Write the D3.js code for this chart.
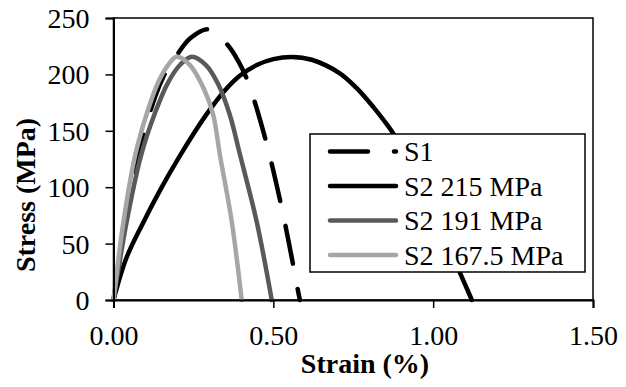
<!DOCTYPE html>
<html>
<head>
<meta charset="utf-8">
<script src="https://cdn.jsdelivr.net/npm/d3@7"></script>
<style>
  html, body { margin: 0; padding: 0; background: #fff; }
  svg { display: block; }
</style>
</head>
<body>
<script>
// Stress–strain curves for specimen S1 and the three S2 load levels
const seriesNames = ["S1", "S2 215 MPa", "S2 191 MPa", "S2 167.5 MPa"];

const strainS1 = [0, 0.04, 0.085, 0.13, 0.167, 0.198, 0.24, 0.296, 0.354, 0.39, 0.417, 0.437, 0.474, 0.493, 0.523, 0.535, 0.56, 0.571, 0.583];
const stressS1 = [0, 72, 135, 180, 204, 217, 232, 240, 227, 212, 196, 180, 144, 123, 86, 70, 34, 17, 0];

const strainS2a = [0, 0.04, 0.09, 0.145, 0.208, 0.287, 0.349, 0.396, 0.45, 0.5, 0.557, 0.62, 0.708, 0.76, 0.813, 0.849, 0.874, 0.9, 0.95, 1.0, 1.05, 1.084, 1.121];
const stressS2a = [0, 37, 67, 97, 128, 163, 186, 199, 208.5, 213.5, 215.5, 213, 201, 188, 171, 158, 148, 135, 108, 78, 46, 24, 0];

const strainS2b = [0, 0.041, 0.086, 0.13, 0.171, 0.21, 0.245, 0.29, 0.328, 0.364, 0.396, 0.448, 0.495];
const stressS2b = [0, 69, 128, 166, 193, 209, 215.7, 208, 191, 164, 128.5, 69.4, 0];

const strainS2c = [0, 0.031, 0.068, 0.105, 0.14, 0.17, 0.198, 0.24, 0.283, 0.312, 0.333, 0.37, 0.401];
const stressS2c = [0, 69, 128.5, 166, 193, 208, 215.7, 208, 187, 164, 128.5, 69.4, 0];

const xTicks = [0, 0.5, 1.0, 1.5];
const yTicks = [0, 50, 100, 150, 200, 250];
const xTitle = "Strain (%)";
const yTitle = "Stress (MPa)";

const FONT = "'Liberation Serif'";

const W = 626, H = 387;
const svg = d3.select("body").append("svg").attr("width", W).attr("height", H);
svg.append("rect").attr("width", W).attr("height", H).attr("fill", "#fff");

const x = d3.scaleLinear().domain([0, 1.5]).range([113.5, 593]);
const y = d3.scaleLinear().domain([0, 250]).range([300, 18]);

const series = [
  { name: seriesNames[0], xs: strainS1, ys: stressS1, color: "#000", dash: "38,26" },
  { name: seriesNames[1], xs: strainS2a, ys: stressS2a, color: "#000", dash: null },
  { name: seriesNames[2], xs: strainS2b, ys: stressS2b, color: "#595959", dash: null },
  { name: seriesNames[3], xs: strainS2c, ys: stressS2c, color: "#a6a6a6", dash: null }
];

const line = d3.line().x(d => x(d[0])).y(d => y(d[1])).curve(d3.curveCatmullRom.alpha(0.5));

// text helper: serif face at the chart's label size
function styleText(sel, bold) {
  sel.style("font-family", FONT).style("font-size", "28px")
     .style("font-weight", bold ? "bold" : "normal").style("fill", "#000");
  return sel;
}

// plot frame
svg.append("rect")
  .attr("x", x(0)).attr("y", y(250))
  .attr("width", x(1.5) - x(0)).attr("height", y(0) - y(250))
  .attr("fill", "none").attr("stroke", "#000").attr("stroke-width", 1.5);

// curves
const gCurves = svg.append("g");
series.forEach(s => {
  const pts = s.xs.map((v, i) => [v, s.ys[i]]);
  const p = gCurves.append("path")
    .attr("d", line(pts))
    .attr("fill", "none")
    .attr("stroke", s.color)
    .attr("stroke-width", 4.5)
    .attr("stroke-linecap", "round")
    .attr("stroke-linejoin", "round");
  if (s.dash) {
    // phase the dash pattern so a short dash closes the curve at zero stress
    const L = p.node().getTotalLength();
    const off = ((11.4 - L) % 64 + 64) % 64;
    p.attr("stroke-dasharray", s.dash).attr("stroke-dashoffset", off);
  }
});

// axes
const xAxis = d3.axisBottom(x).tickValues(xTicks).tickFormat(d3.format(".2f")).tickSize(8).tickPadding(12);
const yAxis = d3.axisLeft(y).tickValues(yTicks).tickFormat(d3.format("d")).tickSize(8).tickPadding(16);

const gx = svg.append("g").attr("transform", `translate(0,${y(0)})`).call(xAxis);
const gy = svg.append("g").attr("transform", `translate(${x(0)},0)`).call(yAxis);
[gx, gy].forEach(g => {
  g.attr("font-family", null).attr("font-size", null);
  g.select(".domain").attr("stroke", "#000").attr("stroke-width", 2);
  g.selectAll(".tick line").attr("stroke", "#000").attr("stroke-width", 1.5);
  styleText(g.selectAll(".tick text"), false);
});
gx.selectAll(".tick text").attr("dy", null).attr("y", 45);
gy.selectAll(".tick text").attr("dy", null).attr("y", 9.5);

// axis titles
styleText(svg.append("text").attr("x", 365).attr("y", 373).attr("text-anchor", "middle"), true)
  .text(xTitle);
styleText(svg.append("text").attr("transform", "translate(35,195) rotate(-90)").attr("text-anchor", "middle"), true)
  .text(yTitle);

// legend
const lg = svg.append("g");
lg.append("rect").attr("x", 310).attr("y", 134).attr("width", 275).attr("height", 138)
  .attr("fill", "#fff").attr("stroke", "#000").attr("stroke-width", 1.5);
series.forEach((s, i) => {
  const cy = 151.5 + i * 34.5;
  const l = lg.append("line").attr("x1", 330).attr("x2", 396).attr("y1", cy).attr("y2", cy)
    .attr("stroke", s.color).attr("stroke-width", 4.5).attr("stroke-linecap", "round");
  if (s.dash) l.attr("stroke-dasharray", s.dash);
  styleText(lg.append("text").attr("x", 404).attr("y", cy + 9.5), false).text(s.name);
});
</script>
</body>
</html>
